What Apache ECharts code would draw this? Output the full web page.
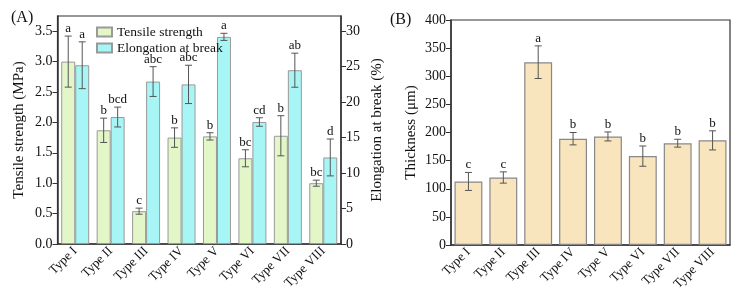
<!DOCTYPE html>
<html>
<head>
<meta charset="utf-8">
<script src="https://cdn.jsdelivr.net/npm/echarts@6/dist/echarts.min.js"></script>
<style>
  html, body { margin: 0; padding: 0; background: #fff; }
  #main { width: 739px; height: 297px; }
</style>
</head>
<body>
<div id="main"></div>
<script>
// chart data
var types = ['Type I', 'Type II', 'Type III', 'Type IV', 'Type V', 'Type VI', 'Type VII', 'Type VIII'];

var tensile = [3.0, 1.87, 0.54, 1.75, 1.77, 1.41, 1.78, 1.0];
var tensileErr = [0.42, 0.2, 0.05, 0.16, 0.06, 0.14, 0.33, 0.05];
var tensileLetters = ['a', 'b', 'c', 'b', 'b', 'bc', 'b', 'bc'];

var elongation = [25.2, 17.9, 22.9, 22.5, 29.2, 17.2, 24.5, 12.2];
var elongationErr = [3.3, 1.4, 2.1, 2.7, 0.5, 0.6, 2.4, 2.6];
var elongationLetters = ['a', 'bcd', 'abc', 'abc', 'a', 'cd', 'ab', 'd'];

var thickness = [113, 120, 325, 189, 193, 158, 181, 186];
var thicknessErr = [16, 10, 29, 11, 8, 18, 7, 17];
var thicknessLetters = ['c', 'c', 'a', 'b', 'b', 'b', 'b', 'b'];

var FONT = "'Liberation Serif', 'Times New Roman', serif";
var AXIS_COLOR = '#333';

var chart = echarts.init(document.getElementById('main'));

// error bar + significance letter, shifted by a fraction of the band width
function errorSeries(name, xIdx, yIdx, values, errs, letters, offsetFrac) {
  var data = values.map(function (v, i) { return [i, v, errs[i]]; });
  return {
    name: name,
    type: 'custom',
    xAxisIndex: xIdx,
    yAxisIndex: yIdx,
    z: 10,
    silent: true,
    data: data,
    renderItem: function (params, api) {
      var i = api.value(0);
      var v = api.value(1);
      var e = api.value(2);
      var band = api.size([1, 0])[0];
      var top = api.coord([i, v + e]);
      var bot = api.coord([i, v - e]);
      var x = top[0] + offsetFrac * band;
      var cap = 3.5;
      var st = { stroke: '#555', lineWidth: 1 };
      return {
        type: 'group',
        children: [
          { type: 'line', shape: { x1: x, y1: top[1], x2: x, y2: bot[1] }, style: st },
          { type: 'line', shape: { x1: x - cap, y1: top[1], x2: x + cap, y2: top[1] }, style: st },
          { type: 'line', shape: { x1: x - cap, y1: bot[1], x2: x + cap, y2: bot[1] }, style: st },
          {
            type: 'text',
            style: {
              x: x, y: top[1] - 1,
              text: letters[i],
              align: 'center', verticalAlign: 'bottom',
              font: '13px ' + FONT, fill: '#111'
            }
          }
        ]
      };
    }
  };
}

function catAxis(gridIndex) {
  return {
    type: 'category',
    gridIndex: gridIndex,
    data: types,
    axisLine: { lineStyle: { color: AXIS_COLOR, width: 1.5 } },
    axisTick: { alignWithLabel: true, length: 4, lineStyle: { color: AXIS_COLOR } },
    axisLabel: { rotate: 45, fontFamily: FONT, fontSize: 13, color: '#111', margin: 5 }
  };
}

function valAxis(gridIndex, opts) {
  return Object.assign({
    type: 'value',
    gridIndex: gridIndex,
    min: 0,
    splitLine: { show: false },
    axisLine: { show: true, lineStyle: { color: AXIS_COLOR, width: 1.5 } },
    axisTick: { show: true, length: 5, lineStyle: { color: AXIS_COLOR } },
    axisLabel: { fontFamily: FONT, fontSize: 14, color: '#111', margin: 5, showMaxLabel: false },
    nameLocation: 'middle',
    nameTextStyle: { fontFamily: FONT, fontSize: 15, color: '#111' }
  }, opts);
}

var option = {
  backgroundColor: '#ffffff',
  animation: false,
  title: [
    { text: '(A)', left: 6, top: 5, textStyle: { fontFamily: FONT, fontSize: 16, fontWeight: 'normal', color: '#111' } },
    { text: '(B)', left: 385, top: 7, textStyle: { fontFamily: FONT, fontSize: 16, fontWeight: 'normal', color: '#111' } }
  ],
  legend: {
    orient: 'vertical',
    left: 91, top: 20,
    itemWidth: 15, itemHeight: 9, itemGap: 2,
    icon: 'rect',
    data: ['Tensile strength', 'Elongation at break'],
    textStyle: { fontFamily: FONT, fontSize: 13.5, color: '#111' }
  },
  grid: [
    { left: 57.5, top: 16, right: 398, bottom: 53, show: true, borderColor: AXIS_COLOR, borderWidth: 1.2 },
    { left: 451, top: 20, right: 9, bottom: 52, show: true, borderColor: AXIS_COLOR, borderWidth: 1.2 }
  ],
  xAxis: [catAxis(0), catAxis(1)],
  yAxis: [
    valAxis(0, { max: 3.75, interval: 0.5, name: 'Tensile strength (MPa)', nameGap: 31,
      axisLabel: { fontFamily: FONT, fontSize: 14, color: '#111', margin: 5, showMaxLabel: false,
        formatter: function (v) { return v.toFixed(1); } } }),
    valAxis(0, { position: 'right', max: 32.142857, interval: 5, name: 'Elongation at break (%)', nameGap: 29 }),
    valAxis(1, { max: 400, interval: 50, name: 'Thickness (μm)', nameGap: 32,
      axisLabel: { fontFamily: FONT, fontSize: 14, color: '#111', margin: 5 } })
  ],
  series: [
    {
      name: 'Tensile strength', type: 'bar', xAxisIndex: 0, yAxisIndex: 0,
      data: tensile, barGap: '0%', barCategoryGap: '21%',
      itemStyle: { color: '#e2f6c8', borderColor: '#999', borderWidth: 1 }
    },
    {
      name: 'Elongation at break', type: 'bar', xAxisIndex: 0, yAxisIndex: 1,
      data: elongation, barGap: '0%', barCategoryGap: '21%',
      itemStyle: { color: '#a8f5f6', borderColor: '#999', borderWidth: 1 }
    },
    {
      name: 'Thickness', type: 'bar', xAxisIndex: 1, yAxisIndex: 2,
      data: thickness, barCategoryGap: '20%',
      itemStyle: { color: '#f8e4bd', borderColor: '#888', borderWidth: 1.2 }
    },
    errorSeries('tensileErr', 0, 0, tensile, tensileErr, tensileLetters, -0.1975),
    errorSeries('elongErr', 0, 1, elongation, elongationErr, elongationLetters, 0.1975),
    errorSeries('thickErr', 1, 2, thickness, thicknessErr, thicknessLetters, 0)
  ]
};

chart.setOption(option);
</script>
</body>
</html>
